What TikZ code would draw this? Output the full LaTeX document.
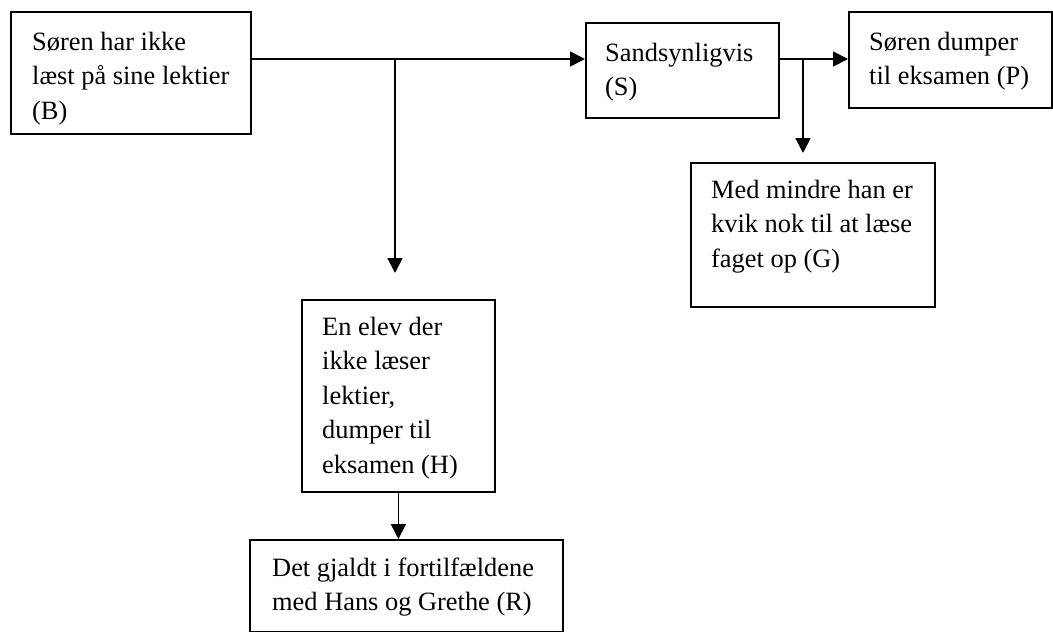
\documentclass[tikz,border=0pt]{standalone}
\usepackage{fontspec}
\setmainfont{Liberation Serif}
\usetikzlibrary{arrows.meta}
\begin{document}
\begin{tikzpicture}[x=1pt,y=1pt,
  box/.style={draw, line width=1.8pt, inner sep=0pt, anchor=north west},
  txt/.style={inner sep=0pt, anchor=base west, align=left, font=\fontsize{26.4}{34.5}\selectfont},
  arr/.style={line width=1.8pt, -{Triangle[length=15pt,width=15pt]}}]
\useasboundingbox (0,0) rectangle (1053,-632);
% boxes
\node[box, minimum width=240pt, minimum height=122pt] (B) at (10,-11) {};
\node[box, minimum width=193pt, minimum height=95pt] (S) at (585,-22) {};
\node[box, minimum width=203pt, minimum height=96pt] (P) at (848,-11) {};
\node[box, minimum width=244pt, minimum height=144pt] (G) at (690,-162) {};
\node[box, minimum width=193pt, minimum height=192pt] (H) at (301,-299) {};
\node[box, minimum width=313pt, minimum height=92pt] (R) at (249,-539) {};
% texts (anchored at the baseline of their last line)
\node[txt] (Bt) at (32,-119) {Søren har ikke\\læst på sine lektier\\(B)};
\node[txt] (St) at (605,-95.5) {Sandsynligvis\\(S)};
\node[txt] (Pt) at (869,-84.5) {Søren dumper\\til eksamen (P)};
\node[txt] (Gt) at (711,-267) {Med mindre han er\\kvik nok til at læse\\faget op (G)};
\node[txt] (Ht) at (322,-473) {En elev der\\ikke læser\\lektier,\\dumper til\\eksamen (H)};
\node[txt] (Rt) at (272,-610.5) {Det gjaldt i fortilfældene\\med Hans og Grethe (R)};
% connectors
\coordinate (j1) at (395,-59);
\coordinate (j2) at (803,-59);
\draw[arr] (j1 -| B.east) -- (j1 -| S.west);
\draw[arr, shorten >=26pt] (j1) -- (j1 |- H.north);
\draw[arr] (j2 -| S.east) -- (j2 -| P.west);
\draw[arr, shorten >=9pt] (j2) -- (j2 |- G.north);
\draw[arr] (H.south) -- (H.south |- R.north);
\end{tikzpicture}
\end{document}
